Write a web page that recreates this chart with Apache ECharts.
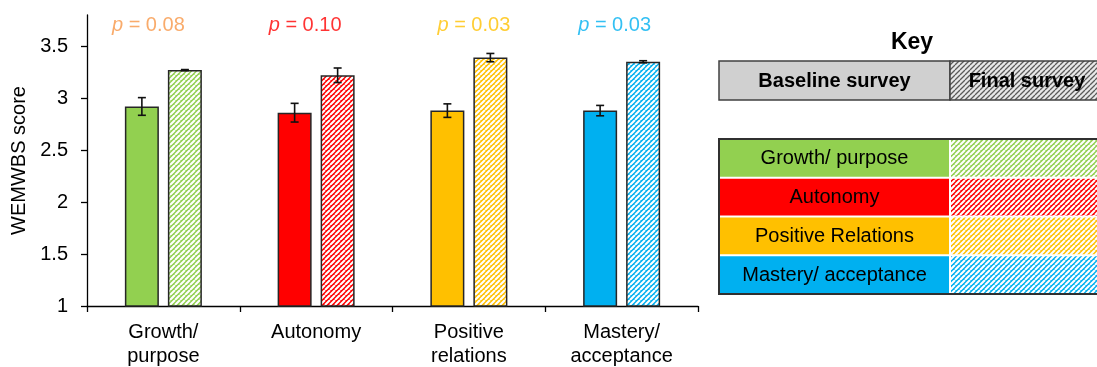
<!DOCTYPE html>
<html>
<head>
<meta charset="utf-8">
<script src="https://cdn.jsdelivr.net/npm/echarts@6/dist/echarts.min.js"></script>
<style>
  html, body { margin: 0; padding: 0; background: #fff; }
  #chart { width: 1097px; height: 367px; }
</style>
</head>
<body>
<div id="chart"></div>
<script>
// WEMWBS subscale scores, baseline vs final survey
const categories = ['Growth/\npurpose', 'Autonomy', 'Positive\nrelations', 'Mastery/\nacceptance'];
const baselineScores = [2.92, 2.86, 2.88, 2.88];
const baselineErr = [0.085, 0.09, 0.065, 0.05];
const finalScores = [3.27, 3.22, 3.39, 3.35];
const finalErr = [0.005, 0.07, 0.04, 0.01];
const pValues = ['0.08', '0.10', '0.03', '0.03'];
const yTicks = [1, 1.5, 2, 2.5, 3, 3.5];
const keyLabels = ['Growth/ purpose', 'Autonomy', 'Positive Relations', 'Mastery/ acceptance'];
const surveyLabels = ['Baseline survey', 'Final survey'];

const palette = ['#92D050', '#FF0000', '#FFC000', '#00B0F0'];
const pColors = ['#F79646', '#FF0000', '#FFC000', '#00B0F0'];
const pLabelShift = [-15, -11, 5, -7];
const FONT = '"Liberation Sans", Arial, sans-serif';
const BAR_W = 34, BAR_GAP = 9;

// diagonal stripe tile (bottom-left to top-right) used for hatched fills
function hatchSlash(bg, line, size, width) {
  const c = document.createElement('canvas');
  c.width = size; c.height = size;
  const g = c.getContext('2d');
  g.fillStyle = bg; g.fillRect(0, 0, size, size);
  g.strokeStyle = line; g.lineWidth = width;
  g.beginPath();
  for (let k = -1; k <= 2; k++) {
    g.moveTo(k * size - size, size);
    g.lineTo(k * size, 0);
    g.moveTo(k * size, size);
    g.lineTo(k * size + size, 0);
  }
  g.stroke();
  return { image: c, repeat: 'repeat' };
}

const hatched = palette.map(col => hatchSlash(col, '#ffffff', 5, 2.1));
const greyHatch = hatchSlash('#e8e8e8', '#5a5a5a', 5, 1.3);

const chart = echarts.init(document.getElementById('chart'), null, { renderer: 'canvas' });

function errorBars(values, errs, offset) {
  return {
    type: 'custom',
    z: 5,
    silent: true,
    data: values.map((v, i) => [i, v - errs[i], v + errs[i]]),
    renderItem(params, api) {
      const lo = api.coord([api.value(0), api.value(1)]);
      const hi = api.coord([api.value(0), api.value(2)]);
      const x = lo[0] + offset;
      const cap = 4;
      const style = { stroke: '#111', lineWidth: 1.6 };
      return {
        type: 'group',
        children: [
          { type: 'line', shape: { x1: x, y1: lo[1], x2: x, y2: hi[1] }, style },
          { type: 'line', shape: { x1: x - cap, y1: lo[1], x2: x + cap, y2: lo[1] }, style },
          { type: 'line', shape: { x1: x - cap, y1: hi[1], x2: x + cap, y2: hi[1] }, style }
        ]
      };
    }
  };
}

// key panel
const KX = 719, KSPLIT = 950, KR = 1112;
const graphics = [];
graphics.push({
  type: 'text', x: 912, y: 43,
  style: { text: 'Key', font: 'bold 23px ' + FONT, fill: '#000', align: 'center', verticalAlign: 'middle' }
});
graphics.push({ type: 'rect', shape: { x: KX, y: 61, width: KSPLIT - KX, height: 39 },
  style: { fill: '#d0d0d0', stroke: '#404040', lineWidth: 1.5 } });
graphics.push({ type: 'rect', shape: { x: KSPLIT, y: 61, width: KR - KSPLIT, height: 39 },
  style: { fill: greyHatch, stroke: '#404040', lineWidth: 1.5 } });
graphics.push({ type: 'text', x: (KX + KSPLIT) / 2, y: 81,
  style: { text: surveyLabels[0], font: 'bold 20px ' + FONT, fill: '#000', align: 'center', verticalAlign: 'middle' } });
graphics.push({ type: 'text', x: 1027, y: 81,
  style: { text: surveyLabels[1], font: 'bold 20px ' + FONT, fill: '#000', align: 'center', verticalAlign: 'middle' } });

const rowTop = 139, rowH = 38.75;
graphics.push({ type: 'rect', shape: { x: KX, y: rowTop, width: KR - KX, height: rowH * 4 },
  style: { fill: '#fff', stroke: '#303030', lineWidth: 2 } });
keyLabels.forEach((lab, i) => {
  const y = rowTop + i * rowH;
  graphics.push({ type: 'rect', shape: { x: KX + 1, y: y + 1, width: KSPLIT - KX - 2, height: rowH - 2 },
    style: { fill: palette[i] } });
  graphics.push({ type: 'rect', shape: { x: KSPLIT + 1, y: y + 1, width: KR - KSPLIT, height: rowH - 2 },
    style: { fill: hatched[i] } });
  graphics.push({ type: 'text', x: (KX + KSPLIT) / 2, y: y + rowH / 2 + 0.5,
    style: { text: lab, font: '20px ' + FONT, fill: '#000', align: 'center', verticalAlign: 'middle' } });
});

chart.setOption({
  animation: false,
  backgroundColor: '#ffffff',
  textStyle: { fontFamily: FONT },
  grid: { left: 87, right: 399, top: 15, bottom: 61, containLabel: false, outerBoundsMode: 'none' },
  xAxis: {
    type: 'category',
    data: categories,
    axisLine: { lineStyle: { color: '#000', width: 1.3 } },
    axisTick: { show: true, length: 6, lineStyle: { color: '#000', width: 1.3 } },
    axisLabel: { color: '#000', fontSize: 20, lineHeight: 24, margin: 14, interval: 0 }
  },
  yAxis: {
    type: 'value',
    min: 1, max: 3.8,
    name: 'WEMWBS score',
    nameLocation: 'middle',
    nameGap: 53,
    nameRotate: 90,
    nameTextStyle: { color: '#000', fontSize: 20 },
    axisLine: { show: true, lineStyle: { color: '#000', width: 1.3 } },
    axisTick: { show: true, length: 6, customValues: yTicks, lineStyle: { color: '#000', width: 1.3 } },
    axisLabel: { color: '#000', fontSize: 20, margin: 19, customValues: yTicks },
    splitLine: { show: false }
  },
  series: [
    {
      name: surveyLabels[0], type: 'bar', barWidth: BAR_W, barGap: (BAR_GAP / BAR_W * 100) + '%',
      data: baselineScores.map((v, i) => ({ value: v, itemStyle: { color: palette[i] } })),
      itemStyle: { borderColor: '#262626', borderWidth: 1.5 }
    },
    {
      name: surveyLabels[1], type: 'bar', barWidth: BAR_W,
      data: finalScores.map((v, i) => ({ value: v, itemStyle: { color: hatched[i] } })),
      itemStyle: { borderColor: '#262626', borderWidth: 1.5 }
    },
    errorBars(baselineScores, baselineErr, -(BAR_W + BAR_GAP) / 2),
    errorBars(finalScores, finalErr, (BAR_W + BAR_GAP) / 2),
    {
      type: 'scatter', symbolSize: 0, silent: true,
      data: pValues.map((p, i) => ({
        value: [i, 3.70],
        label: {
          show: true, position: 'inside', offset: [pLabelShift[i], 0],
          formatter: '{i|p} = ' + p,
          color: pColors[i], fontSize: 20,
          rich: { i: { fontStyle: 'italic', fontSize: 20, color: pColors[i] } }
        }
      }))
    }
  ],
  graphic: graphics
});
</script>
</body>
</html>
